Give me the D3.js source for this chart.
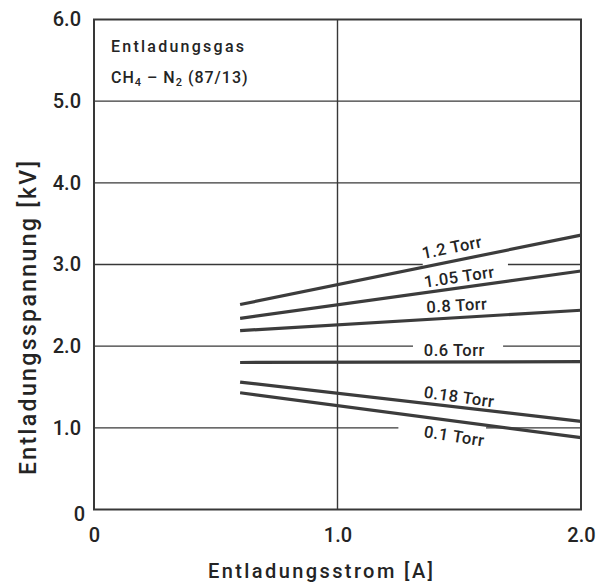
<!DOCTYPE html>
<html>
<head>
<meta charset="utf-8">
<script src="https://cdn.jsdelivr.net/npm/d3@7/dist/d3.min.js"></script>
<style>
  html, body { margin: 0; padding: 0; background: #fff; }
  svg { display: block; }
  text { font-family: Roboto, "DejaVu Sans Condensed", sans-serif; font-weight: 500; fill: #242424; }
</style>
</head>
<body>
<svg id="chart" width="598" height="583"></svg>
<script>
// Discharge voltage vs. discharge current, CH4-N2 (87/13), for several pressures
const pressures   = ["1.2 Torr", "1.05 Torr", "0.8 Torr", "0.6 Torr", "0.18 Torr", "0.1 Torr"];
const currentA    = [0.6, 2.0];
const voltStart   = [2.51, 2.34, 2.19, 1.80, 1.56, 1.43];
const voltEnd     = [3.36, 2.92, 2.44, 1.81, 1.08, 0.88];

const xTicks      = [0, 1, 2];
const xTickLabels = ["0", "1.0", "2.0"];
const yTicks      = [0, 1, 2, 3, 4, 5, 6];
const yTickLabels = ["0", "1.0", "2.0", "3.0", "4.0", "5.0", "6.0"];

// horizontal grid lines, broken where curve labels sit: [voltage, from A, to A]
const gridRuns = [
  [5, 0, 2], [4, 0, 2],
  [3, 0, 1.35], [3, 1.70, 2],
  [2, 0, 1.31], [2, 1.68, 2],
  [1, 0, 1.25], [1, 1.61, 2]
];

// label placement along each curve: [current A, voltage, rotation deg]
const labelAt = [
  [1.47, 3.21, -11.5],
  [1.50, 2.85, -8.5],
  [1.49, 2.50, -3.5],
  [1.48, 1.95, 0],
  [1.50, 1.38, 8],
  [1.48, 0.90, 9]
];

const svg = d3.select("#chart");
const x = d3.scaleLinear().domain([0, 2]).range([94, 581]);
const y = d3.scaleLinear().domain([0, 6]).range([509.5, 19.5]);
const ink = "#383838";

// grid
svg.append("g").selectAll("line").data(gridRuns).join("line")
  .attr("x1", d => x(d[1])).attr("x2", d => x(d[2]))
  .attr("y1", d => y(d[0])).attr("y2", d => y(d[0]))
  .attr("stroke", ink).attr("stroke-width", 1.4);
svg.append("line")
  .attr("x1", x(1)).attr("x2", x(1)).attr("y1", y(0)).attr("y2", y(6))
  .attr("stroke", ink).attr("stroke-width", 1.4);

// frame
svg.append("rect")
  .attr("x", x(0)).attr("y", y(6))
  .attr("width", x(2) - x(0)).attr("height", y(0) - y(6))
  .attr("fill", "none").attr("stroke", ink).attr("stroke-width", 2);

// axes (labels only, frame drawn above)
const xAxis = svg.append("g").attr("transform", `translate(0,${y(0)})`)
  .call(d3.axisBottom(x).tickValues(xTicks).tickSize(0).tickPadding(18)
    .tickFormat((d, i) => xTickLabels[i]));
const yAxis = svg.append("g").attr("transform", `translate(${x(0)},0)`)
  .call(d3.axisLeft(y).tickValues(yTicks).tickSize(0).tickPadding(13)
    .tickFormat((d, i) => yTickLabels[i]));
[xAxis, yAxis].forEach(g => {
  g.select(".domain").remove();
  g.selectAll("text").attr("font-size", 20).attr("fill", "#242424")
    .style("font-family", "Roboto, sans-serif").style("font-weight", 500);
});
yAxis.selectAll(".tick").filter(d => d === 0).select("text")
  .attr("x", -9).attr("dy", "0.55em");

// curves
const lineGen = d3.line().x(d => x(d[0])).y(d => y(d[1]));
svg.append("g").selectAll("path").data(pressures).join("path")
  .attr("d", (p, i) => lineGen([[currentA[0], voltStart[i]], [currentA[1], voltEnd[i]]]))
  .attr("fill", "none").attr("stroke", "#3c3c3c").attr("stroke-width", 3.2);

// curve labels
svg.append("g").selectAll("text").data(pressures).join("text")
  .attr("transform", (p, i) =>
    `translate(${x(labelAt[i][0])},${y(labelAt[i][1])}) rotate(${labelAt[i][2]})`)
  .attr("text-anchor", "middle").attr("dy", "0.35em")
  .attr("font-size", 16.5).attr("letter-spacing", 0.5)
  .text(d => d);

// gas annotation
svg.append("text").attr("x", 111).attr("y", 52)
  .attr("font-size", 16).attr("textLength", 133).attr("lengthAdjust", "spacing")
  .text("Entladungsgas");
const gas = svg.append("text").attr("x", 111).attr("y", 83).attr("font-size", 16)
  .attr("letter-spacing", 1);
gas.append("tspan").text("CH");
gas.append("tspan").attr("font-size", 11).attr("dy", 3).text("4");
gas.append("tspan").attr("dy", -3).text(" – N");
gas.append("tspan").attr("font-size", 11).attr("dy", 3).text("2");
gas.append("tspan").attr("dy", -3).text(" (87/13)");

// axis titles
svg.append("text").attr("x", 320.5).attr("y", 578)
  .attr("text-anchor", "middle").attr("font-size", 20)
  .attr("textLength", 225).attr("lengthAdjust", "spacing")
  .text("Entladungsstrom [A]");
svg.append("text")
  .attr("transform", "translate(36,318) rotate(-90)")
  .attr("text-anchor", "middle").attr("font-size", 23)
  .attr("textLength", 314).attr("lengthAdjust", "spacing")
  .text("Entladungsspannung [kV]");
</script>
</body>
</html>
